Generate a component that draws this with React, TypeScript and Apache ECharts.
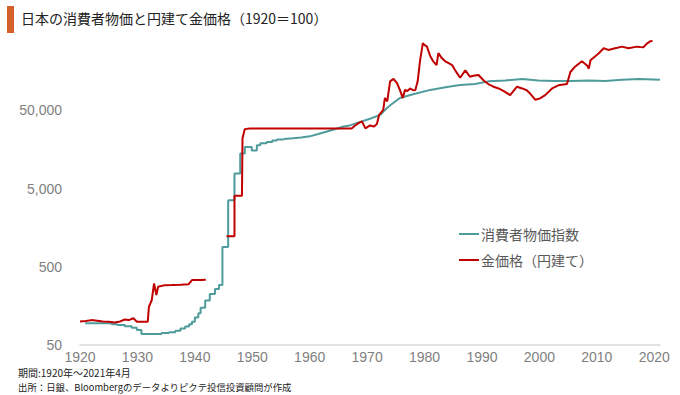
import React, { useEffect, useRef } from 'react';
import * as echarts from 'echarts';

const TITLE = '日本の消費者物価と円建て金価格（1920＝100）';
const NOTE_PERIOD = '期間:1920年～2021年4月';
const NOTE_SOURCE = '出所：日銀、Bloombergのデータよりピクテ投信投資顧問が作成';
const CPI_NAME = '消費者物価指数';
const GOLD_NAME = '金価格（円建て）';

const xTickYears = [1920, 1930, 1940, 1950, 1960, 1970, 1980, 1990, 2000, 2010, 2020];
const yTickValues = [50, 500, 5000, 50000];

// CPI, annual steps (value holds until next year mark)
const cpiEarly: [number, number][] = [
  [1920.9, 95], [1925.5, 92], [1926.5, 90], [1927.8, 87], [1929.0, 83], [1929.9, 78],
  [1930.7, 69], [1934.2, 71], [1935.5, 73], [1936.6, 76], [1937.5, 81], [1938.3, 86],
  [1939.0, 92], [1939.5, 99], [1940.0, 112], [1940.6, 127], [1941.0, 150], [1941.8, 185],
  [1942.6, 225], [1943.5, 260], [1944.2, 292], [1944.8, 897], [1945.8, 3550], [1946.9, 7800],
  [1947.9, 14000], [1948.7, 16900], [1949.9, 15300], [1950.8, 17900], [1951.4, 19000],
  [1952.5, 19700], [1953.5, 20500], [1954.3, 21200], [1955.5, 21500],
];

// CPI, later monthly series
const cpiLate: [number, number][] = [
  [1955.5, 21500], [1957.1, 22000], [1958.5, 22500], [1960.0, 23200], [1961.5, 24800],
  [1963.0, 26800], [1964.5, 28800], [1965.9, 31000], [1967.0, 32000], [1968.8, 35500],
  [1970.5, 39000], [1972.3, 43700], [1973.4, 53000], [1974.3, 60000], [1975.7, 71800],
  [1978.0, 80000], [1981.0, 91000], [1983.9, 99000], [1986.2, 105000], [1988.8, 108000],
  [1991.1, 117000], [1994.0, 120000], [1997.0, 125000], [1999.8, 120000], [2002.7, 118000],
  [2005.6, 118000], [2008.6, 120000], [2011.5, 118000], [2014.4, 123000], [2017.3, 125000],
  [2021.0, 123000],
];

// Gold price in yen
const gold: [number, number | null][] = [
  [1920.0, 100], [1921.0, 101], [1922.0, 104], [1923.0, 102], [1924.0, 100], [1925.0, 99],
  [1926.0, 97], [1927.0, 100], [1927.8, 106], [1928.5, 104], [1929.3, 110], [1929.9, 99],
  [1931.0, 99], [1931.8, 99], [1932.0, 154], [1932.5, 188], [1932.9, 307], [1933.3, 217],
  [1933.6, 278], [1934.8, 291], [1936.0, 292], [1937.5, 295], [1938.9, 298], [1939.5, 338],
  [1941.0, 338], [1941.9, 340], [1943.5, null],
  [1945.5, 1230], [1946.9, 1230], [1946.9, 4040], [1948.2, 4040], [1948.3, 21900],
  [1948.7, 28700], [1949.5, 29300], [1955.0, 29300], [1960.0, 29300], [1967.3, 29300],
  [1967.8, 31500], [1968.5, 34200], [1969.1, 36000], [1969.7, 29300], [1970.5, 32000],
  [1971.2, 31000], [1971.7, 33400], [1972.1, 43700], [1972.8, 50700], [1973.1, 71800],
  [1973.5, 65000], [1974.0, 117000], [1974.6, 126000], [1975.2, 111000], [1975.7, 91000],
  [1976.2, 72000], [1976.6, 91000], [1977.0, 88000], [1977.5, 95000], [1978.0, 90000],
  [1978.4, 91000], [1978.8, 117000], [1979.2, 211000], [1979.7, 361000], [1980.0, 340000],
  [1980.4, 327000], [1981.0, 245000], [1981.5, 211000], [1982.1, 189000], [1982.4, 269000],
  [1983.0, 232000], [1983.6, 211000], [1984.2, 200000], [1984.8, 189000], [1985.3, 163000],
  [1986.2, 130000], [1987.1, 162000], [1987.9, 134000], [1988.5, 138000], [1989.4, 141000],
  [1990.3, 120000], [1991.1, 108000], [1992.0, 100000], [1992.9, 95000], [1993.8, 88000],
  [1994.9, 78000], [1996.1, 100000], [1997.0, 95000], [1997.8, 90000], [1998.5, 80000],
  [1999.3, 68000], [2000.1, 71000], [2001.0, 78000], [2002.2, 95000], [2003.3, 104000],
  [2004.8, 108000], [2005.4, 154000], [2006.2, 180000], [2007.4, 211000], [2008.3, 186000],
  [2008.6, 170000], [2008.9, 218000], [2010.3, 266000], [2011.2, 310000], [2012.0, 295000],
  [2013.2, 310000], [2014.4, 325000], [2015.5, 310000], [2017.0, 325000], [2018.1, 318000],
  [2018.7, 355000], [2019.3, 380000], [2019.7, 385000],
];

const CPI_COLOR = '#4f9b9c';
const GOLD_COLOR = '#c00000';
const JP_FONT = '"Noto Sans CJK JP", "Noto Sans", sans-serif';

export default function App() {
  const ref = useRef<HTMLDivElement>(null);

  useEffect(() => {
    document.body.style.margin = '0';
    if (!ref.current) return;
    const chart = echarts.init(ref.current, null, { renderer: 'svg' });
    chart.setOption({
      animation: false,
      backgroundColor: '#ffffff',
      grid: { left: 80, right: 20, top: 32, bottom: 50, containLabel: false },
      legend: {
        left: 454,
        top: 221,
        orient: 'vertical',
        icon: 'rect',
        itemWidth: 20,
        itemHeight: 2,
        itemGap: 10,
        data: [CPI_NAME, GOLD_NAME],
        textStyle: {
          color: '#595959', fontSize: 14, lineHeight: 16, fontFamily: JP_FONT,
          padding: [0, 0, 0, -3],
        },
      },
      xAxis: {
        type: 'value',
        min: 1920,
        max: 2021,
        interval: 10,
        axisLine: { show: true, lineStyle: { color: '#d9d9d9', width: 1.5 } },
        axisTick: { show: false },
        splitLine: { show: false },
        axisLabel: {
          color: '#7f7f7f',
          fontSize: 14,
          lineHeight: 14,
          margin: 5,
          fontFamily: 'Liberation Sans, Arial, sans-serif',
          formatter: (v: number) => (xTickYears.includes(v) ? String(v) : ''),
        },
      },
      yAxis: {
        type: 'log',
        logBase: 10,
        min: 50,
        max: 500000,
        axisLine: { show: false },
        axisTick: { show: false, customValues: yTickValues },
        splitLine: { show: false },
        axisLabel: {
          customValues: yTickValues,
          color: '#7f7f7f',
          fontSize: 14,
          margin: 18,
          fontFamily: 'Liberation Sans, Arial, sans-serif',
          formatter: (v: number) => Math.round(v).toLocaleString('en-US'),
        },
      },
      series: [
        {
          name: CPI_NAME,
          type: 'line',
          step: 'end',
          data: cpiEarly,
          showSymbol: false,
          symbol: 'none',
          color: CPI_COLOR,
          lineStyle: { color: CPI_COLOR, width: 2 },
          z: 2,
        },
        {
          name: CPI_NAME,
          type: 'line',
          data: cpiLate,
          showSymbol: false,
          symbol: 'none',
          color: CPI_COLOR,
          lineStyle: { color: CPI_COLOR, width: 2 },
          z: 2,
        },
        {
          name: GOLD_NAME,
          type: 'line',
          data: gold,
          connectNulls: false,
          showSymbol: false,
          symbol: 'none',
          color: GOLD_COLOR,
          lineStyle: { color: GOLD_COLOR, width: 2 },
          z: 3,
        },
      ],
      graphic: [
        { type: 'rect', left: 7, top: 6, shape: { width: 7, height: 27 }, style: { fill: '#d4612b' } },
        {
          type: 'text', left: 21, top: 11,
          style: { text: TITLE, fill: '#222222', fontSize: 14, fontFamily: JP_FONT },
        },
        {
          type: 'text', left: 18, top: 367,
          style: { text: NOTE_PERIOD, fill: '#222222', fontSize: 10, lineHeight: 11, fontFamily: JP_FONT },
        },
        {
          type: 'text', left: 18, top: 381,
          style: { text: NOTE_SOURCE, fill: '#222222', fontSize: 9.4, lineHeight: 11, fontFamily: JP_FONT },
        },
      ],
    });
    return () => chart.dispose();
  }, []);

  return <div ref={ref} style={{ width: 680, height: 395 }} />;
}
